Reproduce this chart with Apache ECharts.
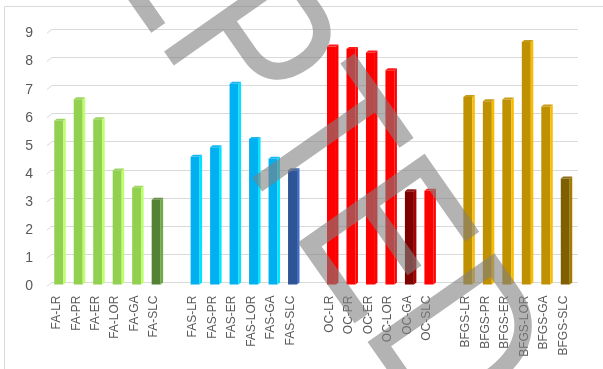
<!DOCTYPE html>
<html><head><meta charset="utf-8">
<script src="https://cdn.jsdelivr.net/npm/echarts@6/dist/echarts.min.js"></script>
<style>html,body{margin:0;padding:0;background:#fff}#c{width:603px;height:369px}</style>
</head><body><div id="c"></div>
<script>
// ---- data ----
const groups = ['FA', 'FAS', 'OC', 'BFGS'];
const methods = ['LR', 'PR', 'ER', 'LOR', 'GA', 'SLC'];
const faValues   = [5.82, 6.59, 5.88, 4.05, 3.44, 3.01];
const fasValues  = [4.54, 4.88, 7.14, 5.17, 4.47, 4.06];
const ocValues   = [8.46, 8.37, 8.25, 7.62, 3.32, 3.33];
const bfgsValues = [6.67, 6.52, 6.58, 8.62, 6.33, 3.77];
const yTicks = [0, 1, 2, 3, 4, 5, 6, 7, 8, 9];
const watermarkText = 'ACCEPTED';

// ---- styles ----
const groupColors = ['#92D050', '#00B0F0', '#FF0000', '#BF9000'];
const highlightMethod = ['SLC', 'SLC', 'GA', 'SLC'];
const highlightColors = ['#548235', '#2F5597', '#800000', '#7F6000'];

const groupValues = [faValues, fasValues, ocValues, bfgsValues];
const categories = [];
const barData = [];
groups.forEach((g, gi) => {
  methods.forEach((m, mi) => {
    const idx = categories.length;
    categories.push(g + '-' + m);
    const col = (m === highlightMethod[gi]) ? highlightColors[gi] : groupColors[gi];
    barData.push({ value: [idx, groupValues[gi][mi]], itemStyle: { color: col } });
  });
  if (gi < groups.length - 1) categories.push(' '.repeat(gi + 1));
});

const chart = echarts.init(document.getElementById('c'), null, { renderer: 'canvas' });
const labelColor = '#595959';
const gridColor = '#D9D9D9';

chart.setOption({
  animation: false,
  backgroundColor: '#fff',
  grid: [
    { left: 47, right: 30, top: 33.4, bottom: 82.5 },   // front plane
    { left: 52, right: 25, top: 29.3, bottom: 86.7 }    // back plane
  ],
  xAxis: [
    { gridIndex: 0, type: 'category', data: categories, boundaryGap: true,
      axisLine: { show: false }, axisTick: { show: false },
      axisLabel: { interval: 0, rotate: 90, margin: 9, color: labelColor, fontSize: 12, fontFamily: 'Liberation Sans' } },
    { gridIndex: 1, type: 'category', data: categories, boundaryGap: true, show: false }
  ],
  yAxis: [
    { gridIndex: 0, type: 'value', min: 0, max: 9, interval: 1,
      axisLine: { show: false }, axisTick: { show: false }, splitLine: { show: false },
      axisLabel: { margin: 14, color: labelColor, fontSize: 14, fontFamily: 'Liberation Sans' } },
    { gridIndex: 1, type: 'value', min: 0, max: 9, interval: 1,
      axisLine: { show: false }, axisTick: { show: false }, axisLabel: { show: false },
      splitLine: { show: true, lineStyle: { color: gridColor, width: 1 } } }
  ],
  series: [
    { // side-wall stubs linking front and back planes
      type: 'custom', xAxisIndex: 1, yAxisIndex: 1, silent: true,
      data: yTicks.map(v => [0, v]),
      renderItem(params, api) {
        const y = api.coord([0, api.value(1)])[1];
        const x = params.coordSys.x;
        return { type: 'line', shape: { x1: x - 5, y1: y + 4, x2: x, y2: y },
                 style: { stroke: gridColor, lineWidth: 1 } };
      }
    },
    {
      type: 'custom', xAxisIndex: 0, yAxisIndex: 0,
      data: barData,
      renderItem(params, api) {
        const idx = api.value(0), v = api.value(1);
        const top = api.coord([idx, v]);
        const base = api.coord([idx, 0]);
        const bw = api.size([1, 0])[0] * 0.46;
        const ox = 2, oy = -2, dx = 2.5, dy = 2;
        const x0 = top[0] + ox - bw / 2, x1 = x0 + bw;
        const yT = top[1] + oy, yB = base[1] + oy;
        const c = api.visual('color');
        const side = echarts.color.lift(c, -0.3);
        const topC = echarts.color.lift(c, 0.1);
        return { type: 'group', children: [
          { type: 'rect', shape: { x: x0, y: yT, width: bw, height: yB - yT }, style: { fill: c } },
          { type: 'polygon', shape: { points: [[x1, yT], [x1 + dx, yT - dy], [x1 + dx, yB - dy], [x1, yB]] }, style: { fill: side } },
          { type: 'polygon', shape: { points: [[x0, yT], [x1, yT], [x1 + dx, yT - dy], [x0 + dx, yT - dy]] }, style: { fill: topC } }
        ] };
      }
    }
  ],
  graphic: [
    { type: 'rect', silent: true, z: 0, shape: { x: 4.5, y: 6.5, width: 700, height: 400 },
      style: { fill: 'none', stroke: '#D9D9D9', lineWidth: 1 } },
    { type: 'text', silent: true, z: 100, x: -84, y: -411, rotation: -55 * Math.PI / 180, scaleX: 0.81,
      style: { text: watermarkText, font: '225px "Liberation Sans"', fill: 'rgba(128,128,128,0.6)',
               textAlign: 'left', textVerticalAlign: 'middle' } }
  ]
});
</script></body></html>
